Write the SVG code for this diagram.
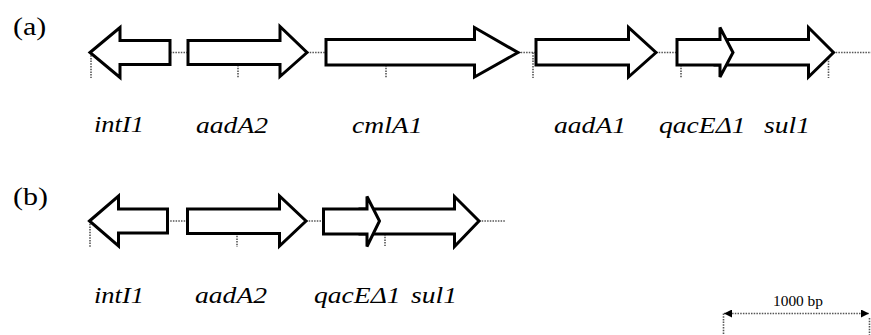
<svg xmlns="http://www.w3.org/2000/svg" width="871" height="335" viewBox="0 0 871 335">
<style>
.gene{fill:#fff;stroke:#000;stroke-width:3;stroke-linejoin:miter}
.dot{stroke:#555;stroke-width:1.6;stroke-dasharray:1.5 1.2;fill:none}
.lbl{font-family:'Liberation Serif','Times New Roman',serif;font-style:italic;font-size:23px;fill:#000}
.panel{font-family:'Liberation Serif','Times New Roman',serif;font-size:25px;fill:#000}
.scale{font-family:'Liberation Serif','Times New Roman',serif;font-size:14px;fill:#000}
</style>
<defs>
<marker id="ah" viewBox="0 0 10 10" refX="10" refY="5" markerWidth="10" markerHeight="8" markerUnits="userSpaceOnUse" orient="auto-start-reverse">
<path d="M0,0 L10,5 L0,10 Z" fill="#000"/>
</marker>
</defs>
<text class="panel" transform="translate(13,35) scale(1.2,1)">(a)</text>
<text class="panel" transform="translate(13,205) scale(1.2,1)">(b)</text>
<g id="connectors">
<path class="dot" d="M170,52.5H188M307,52.5H326M518,52.5H536M656,52.5H677M833,52.5H871"/>
<path class="dot" d="M91,52.5V78M238,65V78M386,65V78M533,52.5V78M681,65V78M828.5,58V78"/>
<path class="dot" d="M167.5,221H187.5M306,221H323.5M479,221H505"/>
<path class="dot" d="M90,221V248M237,233V247M385,234V246"/>
</g>
<g id="a-intI1"><polygon class="gene" points="90,52.5 120,27.5 120,40.5 170,40.5 170,64.5 120,64.5 120,77.5"/><text class="lbl" transform="translate(94,132) scale(1.15,1)">intI1</text></g>
<g id="a-aadA2"><polygon class="gene" points="188,40.5 280,40.5 280,26.5 307,52.5 280,76.5 280,64.5 188,64.5"/><text class="lbl" transform="translate(196,133) scale(1.2,1)">aadA2</text></g>
<g id="a-cmlA1"><polygon class="gene" points="326,39.5 474.5,39.5 474.5,27.5 518,52.5 474.5,77 474.5,65 326,65"/><text class="lbl" transform="translate(352,133) scale(1.2,1)">cmlA1</text></g>
<g id="a-aadA1"><polygon class="gene" points="536,39.5 628.5,39.5 628.5,27.5 656,52.5 628.5,77 628.5,65 536,65"/><text class="lbl" transform="translate(554,133) scale(1.2,1)">aadA1</text></g>
<g id="a-sul1"><polygon class="gene" points="715,39.5 808.5,39.5 808.5,27.5 833.5,52.5 808.5,77 808.5,65 715,65"/><text class="lbl" transform="translate(764,133) scale(1.2,1)">sul1</text></g>
<g id="a-qacE"><polygon class="gene" points="677,39.5 720,39.5 720,27.5 733,52.5 720,77 720,65 677,65"/><text class="lbl" transform="translate(659,133) scale(1.2,1)">qacEΔ1</text></g>
<g id="b-intI1"><polygon class="gene" points="89.5,221 118.5,196 118.5,209 167.5,209 167.5,233 118.5,233 118.5,246"/><text class="lbl" transform="translate(94,303) scale(1.15,1)">intI1</text></g>
<g id="b-aadA2"><polygon class="gene" points="187.5,209 279.5,209 279.5,196 306,221 279.5,246 279.5,233.5 187.5,233.5"/><text class="lbl" transform="translate(195,303) scale(1.2,1)">aadA2</text></g>
<g id="b-sul1"><polygon class="gene" points="360,209 454.5,209 454.5,196.5 479,221 454.5,246.5 454.5,234 360,234"/><text class="lbl" transform="translate(411,303) scale(1.2,1)">sul1</text></g>
<g id="b-qacE"><polygon class="gene" points="323.5,209 367,209 367,196.5 379.5,221 367,246.5 367,234 323.5,234"/><text class="lbl" transform="translate(314,303) scale(1.2,1)">qacEΔ1</text></g>
<g id="scalebar">
<path class="dot" d="M724,313.5H869" marker-start="url(#ah)" marker-end="url(#ah)" stroke="#444"/>
<path class="dot" d="M723.5,313.5V335M869.5,318V335"/>
<text class="scale" transform="translate(773,306) scale(1.1,1)">1000 bp</text>
</g>
</svg>
